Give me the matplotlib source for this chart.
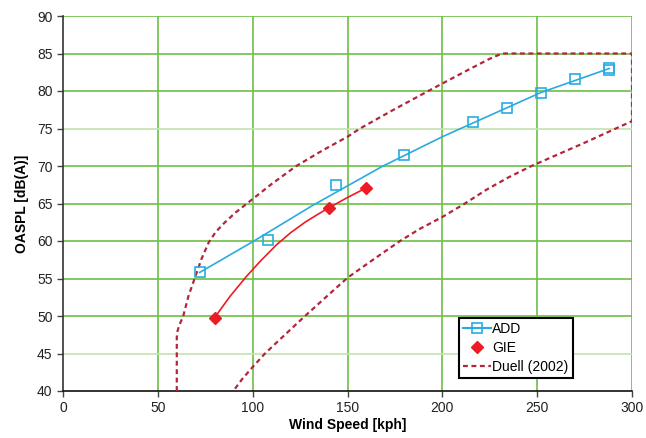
import matplotlib

matplotlib.use("Agg")
import matplotlib.pyplot as plt  # noqa: E402
from matplotlib.lines import Line2D  # noqa: E402

plt.rcParams["font.family"] = ["Liberation Sans", "DejaVu Sans"]

# ADD measurements (markers) and the fitted line through them
add_x = [72, 108, 144, 180, 216, 234, 252, 270, 288, 288]
add_y = [55.9, 60.1, 67.5, 71.5, 75.9, 77.7, 79.8, 81.6, 83.1, 82.8]
add_fit_x = [72, 100, 132, 168, 200, 252, 288]
add_fit_y = [55.8, 59.9, 64.8, 69.9, 73.9, 79.8, 83.0]

# GIE points and smoothed curve
gie_x = [80, 140, 160]
gie_y = [49.8, 64.4, 67.1]
gie_curve_x = [80, 88, 96.8, 104, 112.6, 120, 127.6, 134, 140, 150, 160]
gie_curve_y = [49.8, 52.6, 55.3, 57.3, 59.5, 61.1, 62.5, 63.5, 64.4, 65.8, 67.1]

# Duell (2002) envelope: upper edge, top/right clip, then lower edge back down
duell_x = [60, 60, 60.4, 61.2, 63.4, 66.2, 69.4, 73, 76.8, 80.5, 85.4, 91, 97, 110,
           123, 137, 150, 156.6, 175, 192.6, 200, 215, 225, 231.5,
           300, 300, 299.3, 275, 247, 235, 223, 211.9, 200, 188, 177.7, 164, 150,
           139, 127.6, 117, 106.5, 100, 94.5, 89.8]
duell_y = [40, 47.2, 48.0, 48.7, 50, 52.7, 55, 57.6, 59.8, 61.2, 62.5, 63.8, 65, 67.6,
           70, 72.1, 73.9, 75, 77.6, 80, 81, 83, 84.3, 85,
           85, 76, 75.9, 73.1, 70, 68.5, 66.8, 65, 63.2, 61.6, 60, 57.6, 55.1,
           52.6, 50, 47.5, 45, 43.2, 41.6, 40]

CYAN, RED, DARKRED, GREEN = "#29abe2", "#ec1c24", "#b3263a", "#6cbf45"

fig = plt.figure(figsize=(6.46, 4.38), dpi=100, facecolor="white")
ax = fig.add_axes([63 / 646, 1 - 391 / 438, 569 / 646, 375 / 438])

ax.plot(duell_x, duell_y, color=DARKRED, lw=1.6, ls=(0, (2.2, 1.6)), zorder=3)
ax.plot(add_fit_x, add_fit_y, color=CYAN, lw=1.2, zorder=4)
ax.plot(add_x, add_y, ls="none", marker="s", ms=7, mfc="none", mec=CYAN, mew=1.2, zorder=5)
ax.plot(gie_curve_x, gie_curve_y, color=RED, lw=1.2, zorder=4)
ax.plot(gie_x, gie_y, ls="none", marker="D", ms=6, color=RED, zorder=5)

ax.set_xlim(0, 300)
ax.set_ylim(40, 90)
ax.set_xticks(range(0, 301, 50))
ax.set_yticks(range(40, 91, 5))

for v in range(50, 301, 50):
    ax.axvline(v, color=GREEN, lw=1.2, zorder=1)
for v in range(45, 91, 5):
    c = "#c3e3b0" if v in (45, 75) else GREEN
    ax.axhline(v, color=c, lw=1.2, zorder=1)

for s in ("top", "right"):
    ax.spines[s].set_visible(False)
ax.spines["left"].set_color("#333333")
ax.spines["bottom"].set_color("#111111")
ax.spines["left"].set_linewidth(1.2)
ax.spines["bottom"].set_linewidth(1.2)
ax.tick_params(direction="out", length=4, width=1, color="#444444",
               labelsize=10, labelcolor="#222222")

ax.set_xlabel("Wind Speed [kph]", fontsize=10, fontweight="bold", labelpad=2)
ax.set_ylabel("OASPL [dB(A)]", fontsize=10, fontweight="bold", labelpad=6)

handles = [
    Line2D([], [], color=CYAN, lw=1.5, marker="s", ms=7, mfc="none", mec=CYAN, mew=1.2),
    Line2D([], [], ls="none", marker="D", ms=6, color=RED),
    Line2D([], [], color=DARKRED, lw=1.6, ls=(0, (2.2, 1.6))),
]
leg = ax.legend(handles, ["ADD", "GIE", "Duell (2002)"], loc="upper left",
                bbox_to_anchor=(0.696, 0.195), fontsize=10, fancybox=False,
                framealpha=1, edgecolor="black", handlelength=2.0,
                handletextpad=0.1, borderpad=0.3, labelspacing=0.35,
                borderaxespad=0)
leg.get_frame().set_linewidth(1.5)

fig.savefig("out.png", dpi=100, facecolor="white")
